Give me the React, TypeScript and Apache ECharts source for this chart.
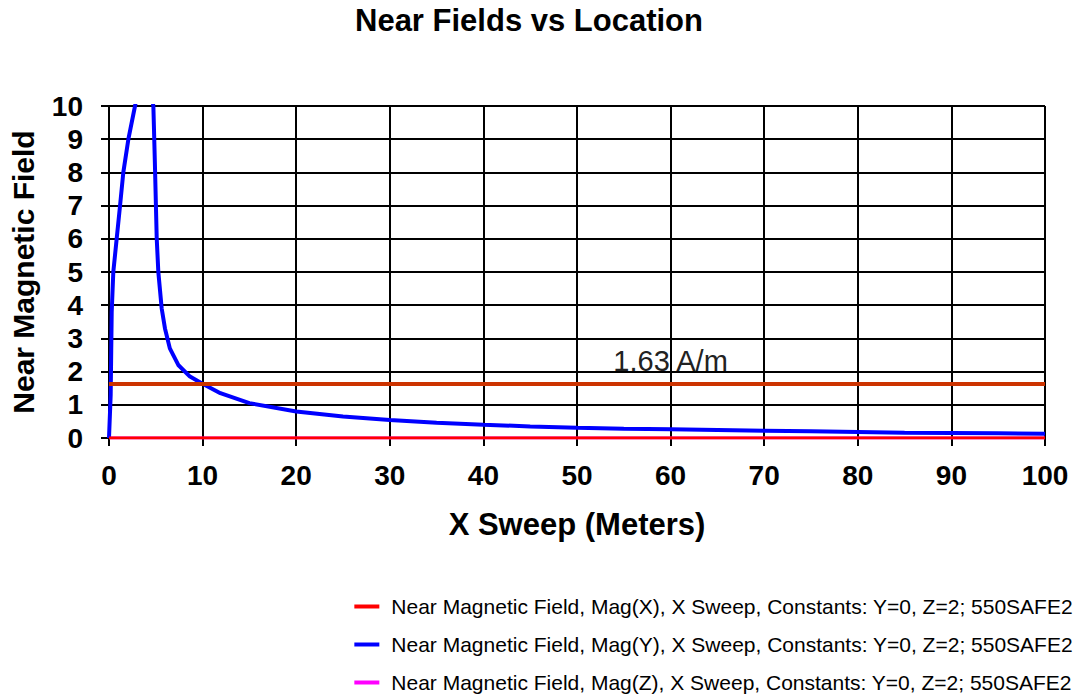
import React, { useEffect, useRef } from "react";
import * as echarts from "echarts";

const titleText = "Near Fields vs Location";
const xAxisName = "X Sweep (Meters)";
const yAxisName = "Near Magnetic Field";

const seriesNames = [
  "Near Magnetic Field, Mag(X), X Sweep, Constants: Y=0, Z=2; 550SAFE2",
  "Near Magnetic Field, Mag(Y), X Sweep, Constants: Y=0, Z=2; 550SAFE2",
  "Near Magnetic Field, Mag(Z), X Sweep, Constants: Y=0, Z=2; 550SAFE2",
];

// Mag(X): zero along the sweep
const magX: [number, number][] = [
  [0, 0],
  [100, 0],
];

// Mag(Y) (values above 10 are clipped by the axis)
const magY: [number, number][] = [
  [0, 0], [0.18, 1.3], [0.29, 3.8], [0.46, 5.0], [0.82, 6.0], [1.18, 7.0],
  [1.53, 8.0], [2.07, 9.0], [2.78, 10.0], [3.8, 11.5], [4.74, 10.0],
  [4.9, 8.3], [5.1, 6.0], [5.27, 5.0], [5.63, 3.9], [5.98, 3.3], [6.5, 2.7],
  [7.4, 2.2], [8.65, 1.85], [9.9, 1.65], [11.9, 1.35], [15, 1.05], [20, 0.8],
  [25, 0.65], [30, 0.54], [35, 0.46], [40, 0.4], [45, 0.35], [50, 0.31],
  [55, 0.28], [60, 0.26], [65, 0.24], [70, 0.22], [75, 0.2], [80, 0.18],
  [85, 0.16], [90, 0.15], [95, 0.14], [100, 0.13],
];

// Mag(Z): zero along the sweep
const magZ: [number, number][] = [
  [0, 0],
  [100, 0],
];

// Limit line
const limitValue = 1.63;
const limitLabel = "1.63 A/m";
const limitLabelX = 60;
const limitLine: [number, number][] = [
  [0, limitValue],
  [limitLabelX, limitValue],
  [100, limitValue],
];

const xTicks = { min: 0, max: 100, interval: 10 };
const yTicks = { min: 0, max: 10, interval: 1 };

const FONT = "'Liberation Sans', Arial, sans-serif";

export default function App() {
  const ref = useRef<HTMLDivElement>(null);

  useEffect(() => {
    if (!ref.current) return;
    const chart = echarts.init(ref.current, undefined, { renderer: "svg" });
    chart.setOption({
      animation: false,
      backgroundColor: "#ffffff",
      title: {
        text: titleText,
        left: 355,
        top: 5,
        padding: 0,
        textStyle: { fontFamily: FONT, fontSize: 31, fontWeight: "bold", color: "#000" },
      },
      grid: { left: 109, right: 31, top: 106, bottom: 256, containLabel: false },
      legend: {
        orient: "vertical",
        right: 3,
        top: 596,
        height: 120,
        padding: 0,
        itemGap: 17,
        itemWidth: 25,
        itemHeight: 4,
        icon: "rect",
        data: seriesNames,
        textStyle: { fontFamily: FONT, fontSize: 21, color: "#000", padding: [0, 0, 0, 7], lineHeight: 21 },
      },
      xAxis: {
        type: "value",
        min: xTicks.min,
        max: xTicks.max,
        interval: xTicks.interval,
        name: xAxisName,
        nameLocation: "middle",
        nameGap: 71,
        nameTextStyle: { fontFamily: FONT, fontSize: 31, fontWeight: "bold", color: "#000" },
        axisLine: { show: true, onZero: false, lineStyle: { color: "#000", width: 2 } },
        axisTick: { show: true, length: 8, inside: false, lineStyle: { color: "#000", width: 2 } },
        axisLabel: { margin: 23, fontFamily: FONT, fontSize: 28, fontWeight: "bold", color: "#000" },
        splitLine: { show: true, lineStyle: { color: "#000", width: 2 } },
      },
      yAxis: {
        type: "value",
        min: yTicks.min,
        max: yTicks.max,
        interval: yTicks.interval,
        name: yAxisName,
        nameLocation: "middle",
        nameGap: 71,
        nameTextStyle: { fontFamily: FONT, fontSize: 30, fontWeight: "bold", color: "#000" },
        axisLine: { show: true, lineStyle: { color: "#000", width: 2 } },
        axisTick: { show: true, length: 8, inside: false, lineStyle: { color: "#000", width: 2 } },
        axisLabel: { margin: 26, fontFamily: FONT, fontSize: 28, fontWeight: "bold", color: "#000" },
        splitLine: { show: true, lineStyle: { color: "#000", width: 2 } },
      },
      series: [
        {
          name: seriesNames[0],
          type: "line",
          data: magX,
          showSymbol: false,
          color: "#ff0000",
          lineStyle: { color: "#ff0000", width: 3 },
          z: 4,
          clip: true,
        },
        {
          name: seriesNames[1],
          type: "line",
          data: magY,
          showSymbol: false,
          color: "#0000ff",
          lineStyle: { color: "#0000ff", width: 4 },
          z: 3,
          clip: true,
        },
        {
          name: seriesNames[2],
          type: "line",
          data: magZ,
          showSymbol: false,
          color: "#ff00ff",
          lineStyle: { color: "#ff00ff", width: 3 },
          z: 2,
          clip: true,
        },
        {
          name: "limit",
          type: "line",
          data: limitLine.map((p) =>
            p[0] === limitLabelX
              ? {
                  value: p,
                  label: {
                    show: true,
                    formatter: limitLabel,
                    position: "top",
                    distance: 8,
                    fontFamily: FONT,
                    fontSize: 29,
                    color: "#222",
                  },
                }
              : { value: p }
          ),
          symbol: "circle",
          symbolSize: 0,
          showSymbol: true,
          color: "#cc3300",
          lineStyle: { color: "#cc3300", width: 4 },
          z: 3,
          silent: true,
        },
      ],
    });
    return () => chart.dispose();
  }, []);

  return (
    <div
      ref={ref}
      style={{ position: "fixed", left: 0, top: 0, width: 1076, height: 694 }}
    />
  );
}
